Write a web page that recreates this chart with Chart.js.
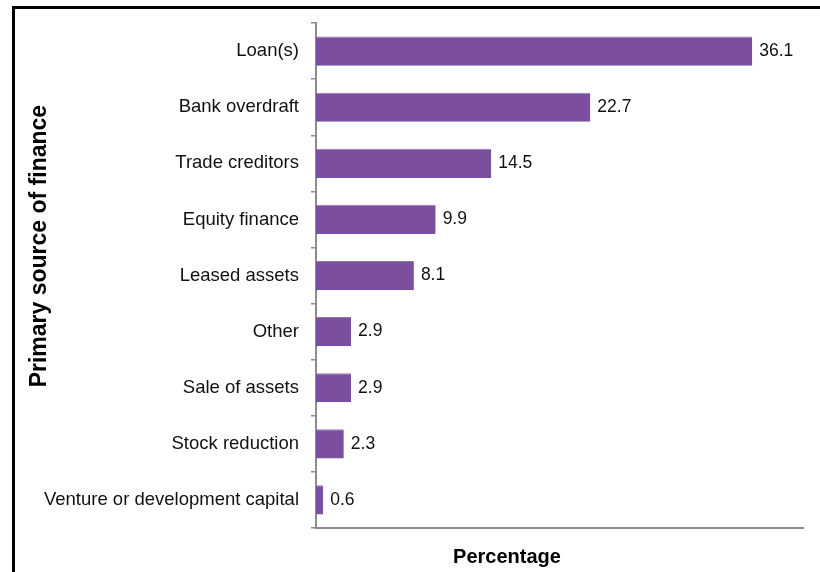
<!DOCTYPE html>
<html>
<head>
<meta charset="utf-8">
<title>Primary source of finance</title>
<script src="https://cdn.jsdelivr.net/npm/chart.js@4/dist/chart.umd.min.js"></script>
<style>
  html, body { margin: 0; padding: 0; background: #fff; overflow: hidden; }
  #wrap { position: relative; width: 820px; height: 572px; overflow: hidden; }
  #frame { position: absolute; left: 12px; top: 6px; width: 900px; height: 700px; border: 3px solid #000; box-sizing: border-box; }
  canvas { position: absolute; left: 0; top: 0; }
</style>
</head>
<body>
<div id="wrap">
  <div id="frame"></div>
  <canvas id="financeChart" width="820" height="572"></canvas>
</div>
<script>
const categories = [
    'Loan(s)',
    'Bank overdraft',
    'Trade creditors',
    'Equity finance',
    'Leased assets',
    'Other',
    'Sale of assets',
    'Stock reduction',
    'Venture or development capital'
];
const percentages = [36.1, 22.7, 14.5, 9.9, 8.1, 2.9, 2.9, 2.3, 0.6];

const FONT = '"Liberation Sans", Arial, sans-serif';
const AXIS_GREY = '#8c8c8c';

// Value labels at the end of each bar
const valueLabels = {
    id: 'valueLabels',
    afterDatasetsDraw(chart) {
        const ctx = chart.ctx;
        const meta = chart.getDatasetMeta(0);
        ctx.save();
        ctx.font = '17.5px ' + FONT;
        ctx.fillStyle = '#111';
        ctx.textAlign = 'left';
        ctx.textBaseline = 'middle';
        meta.data.forEach((bar, i) => {
            ctx.fillText(percentages[i].toFixed(1), bar.x + 7, bar.y);
        });
        ctx.restore();
    }
};

// Axis titles, placed relative to the plot area
const axisTitles = {
    id: 'axisTitles',
    afterDraw(chart) {
        const ctx = chart.ctx;
        const area = chart.chartArea;
        ctx.save();
        ctx.fillStyle = '#000';
        ctx.textAlign = 'center';
        ctx.textBaseline = 'alphabetic';
        ctx.font = 'bold 20px ' + FONT;
        ctx.fillText('Percentage', area.left + 191, area.bottom + 35);

        ctx.font = 'bold 23px ' + FONT;
        ctx.translate(46, area.top + 223);
        ctx.rotate(-Math.PI / 2);
        ctx.fillText('Primary source of finance', 0, 0);
        ctx.restore();
    }
};

document.addEventListener('DOMContentLoaded', function() {
    const ctx = document.getElementById('financeChart');
    new Chart(ctx, {
        type: 'bar',
        data: {
            labels: categories,
            datasets: [{
                data: percentages,
                backgroundColor: '#7b4f9e',
                borderColor: '#9577b3',
                borderWidth: { top: 1, bottom: 0, left: 0, right: 0 },
                borderSkipped: false,
                categoryPercentage: 1,
                barPercentage: 0.52
            }]
        },
        options: {
            indexAxis: 'y',
            responsive: false,
            animation: false,
            layout: { padding: { top: 19, right: 17, left: 0, bottom: 0 } },
            plugins: {
                legend: { display: false },
                tooltip: { enabled: false }
            },
            scales: {
                x: {
                    min: 0,
                    max: 40.3,
                    ticks: { display: false },
                    grid: { display: false },
                    border: { display: true, color: AXIS_GREY, width: 2 },
                    afterFit: function(scale) { scale.height = 44; }
                },
                y: {
                    ticks: {
                        color: '#111',
                        padding: 12,
                        font: { family: FONT, size: 18.5 }
                    },
                    grid: {
                        offset: true,
                        drawOnChartArea: false,
                        drawTicks: true,
                        tickLength: 5,
                        color: AXIS_GREY,
                        lineWidth: 1.5
                    },
                    border: { display: true, color: AXIS_GREY, width: 2 },
                    afterFit: function(scale) { scale.width = 316; }
                }
            }
        },
        plugins: [valueLabels, axisTitles]
    });
});
</script>
</body>
</html>
